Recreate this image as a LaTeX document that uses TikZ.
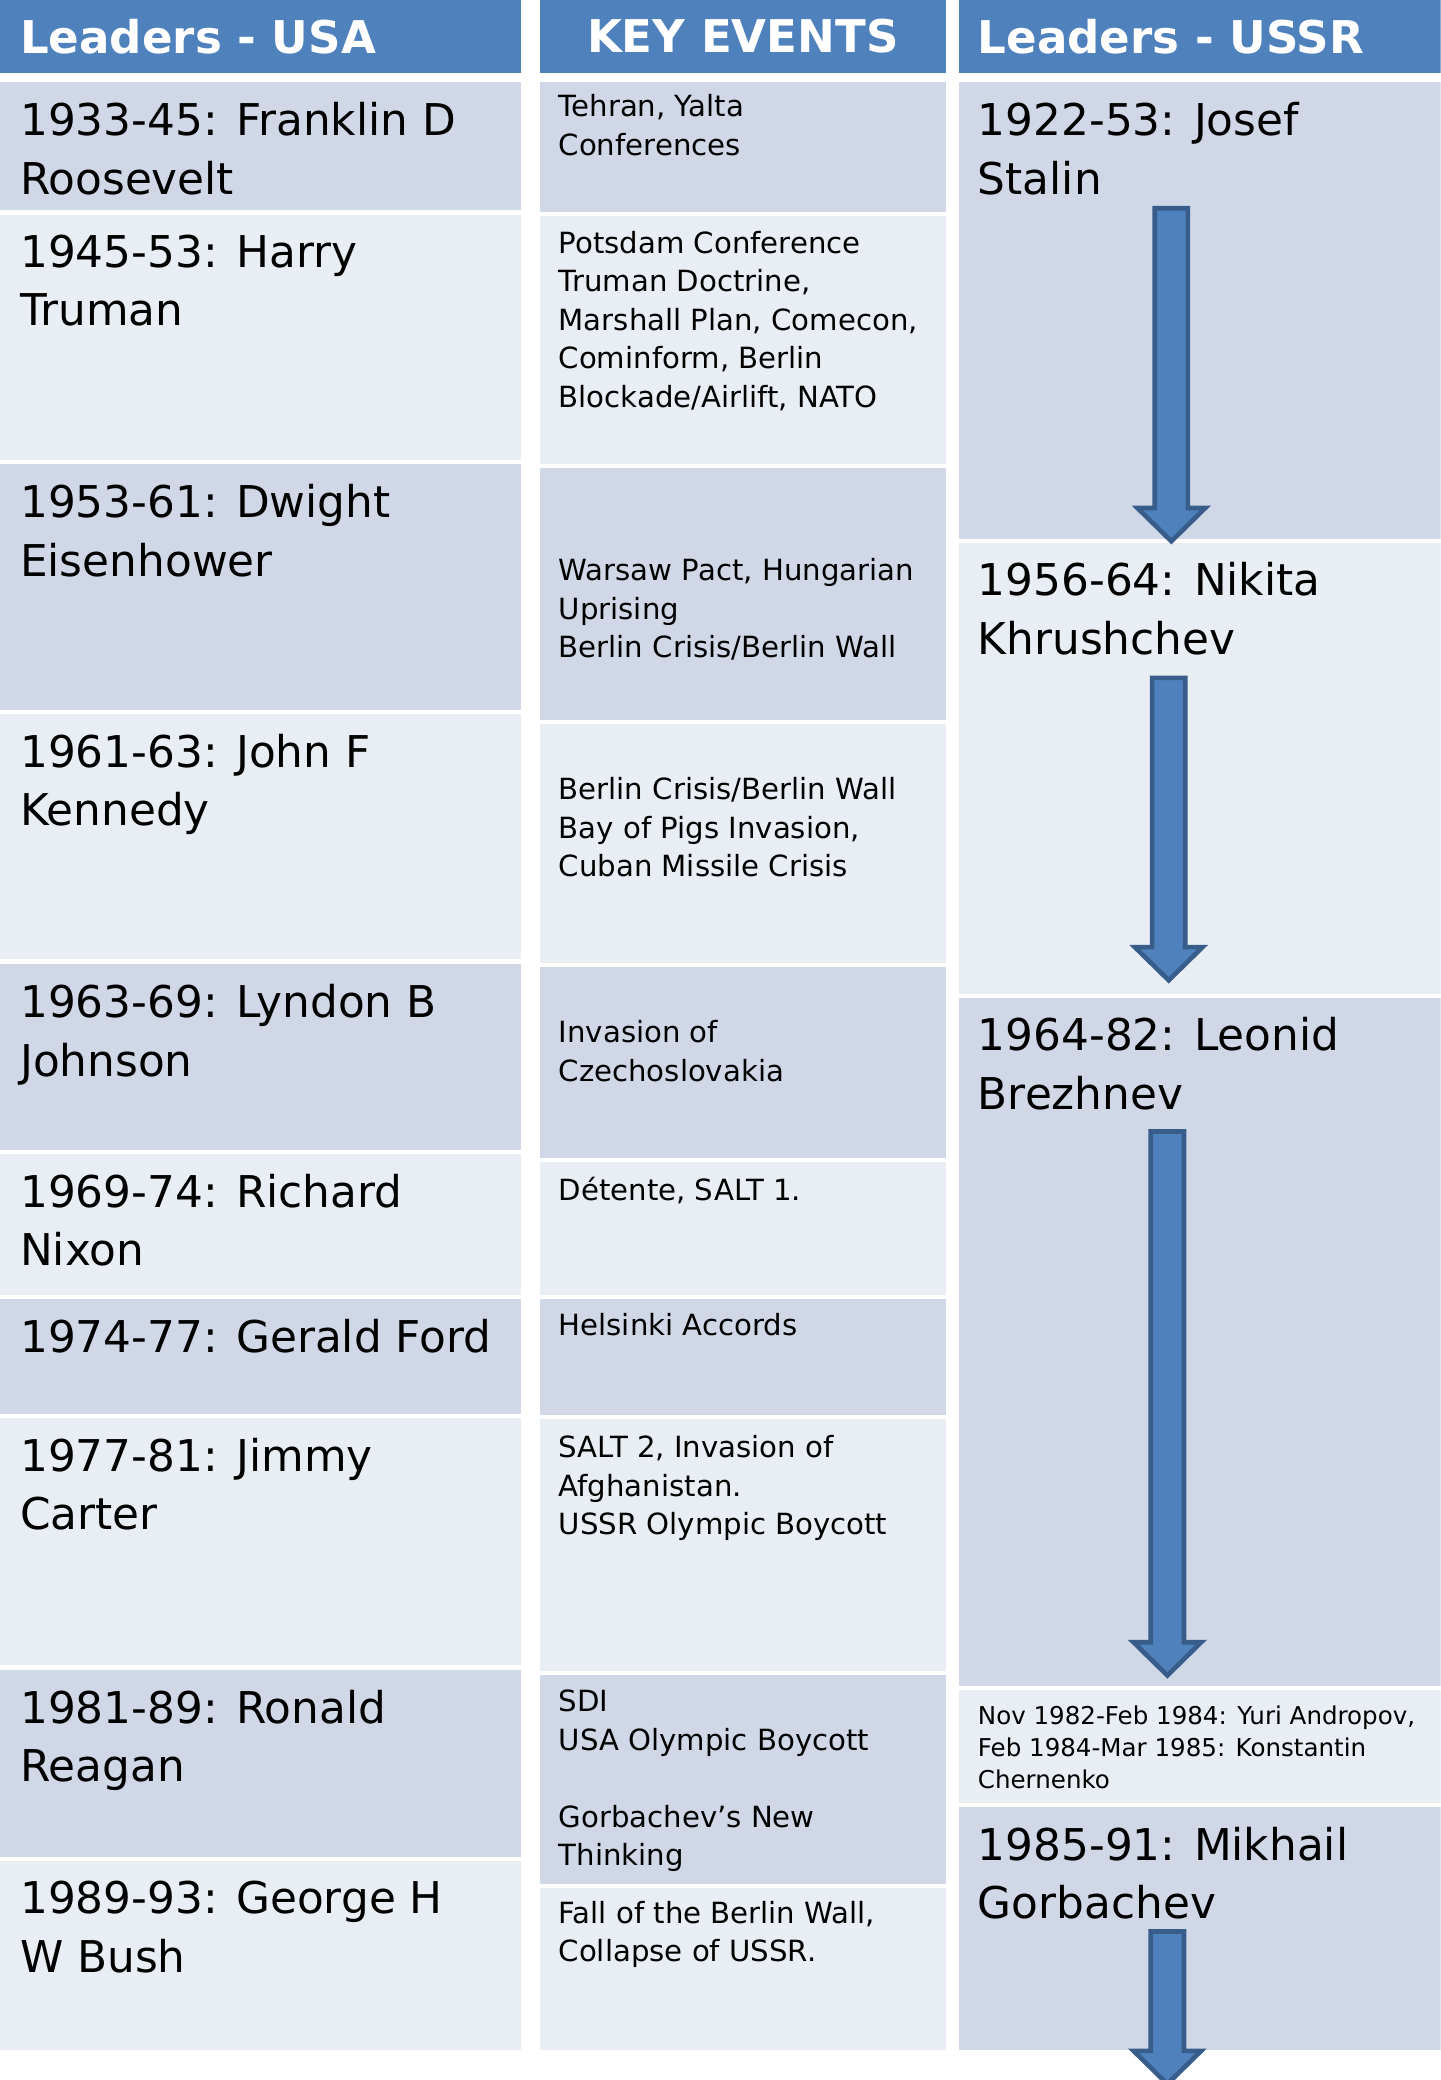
\documentclass[tikz,border=0pt]{standalone}
\usepackage{fontspec}
\setmainfont{DejaVu Sans}
\usetikzlibrary{calc}
\definecolor{headblue}{HTML}{4F81BD}
\definecolor{rowdark}{HTML}{D0D8E8}
\definecolor{rowlight}{HTML}{E9EDF4}
\definecolor{arrowedge}{HTML}{385D8A}
\newcommand\ldrfont{\fontsize{33}{44}\selectfont}
\newcommand\evtfont{\fontsize{22}{29}\selectfont}
\newcommand\smlfont{\fontsize{18.5}{24}\selectfont}
\newcommand\hdrfont{\bfseries\fontsize{34}{40}\selectfont}
\tikzset{
  cell/.style={draw=none, inner sep=0pt, outer sep=0pt, anchor=north west},
  dark/.style={cell, fill=rowdark},
  light/.style={cell, fill=rowlight},
  headcell/.style={cell, fill=headblue},
  headtxt/.style={text=white, font=\hdrfont, inner sep=0pt},
  leader/.style={anchor=north west, inner sep=0pt, align=left, font=\ldrfont},
  event/.style={anchor=north west, inner sep=0pt, align=left, font=\evtfont},
  smalltxt/.style={anchor=north west, inner sep=0pt, align=left, font=\smlfont},
  blockarr/.style={fill=headblue, draw=arrowedge, line width=3.5pt, line join=miter}
}
% block arrow from coordinate #1 (top centre) to coordinate #2 (tip)
\newcommand\blockarrow[2]{%
  \draw[blockarr] ($(#1)+(-12.5,0)$) -- ($(#1)+(12.5,0)$)
    -- ($(#2)+(12.5,-25)$) -- ($(#2)+(25.5,-25)$) -- (#2)
    -- ($(#2)+(-25.5,-25)$) -- ($(#2)+(-12.5,-25)$) -- cycle;}
\begin{document}
\begin{tikzpicture}[x=1pt, y=-1pt]
\useasboundingbox (0,0) rectangle (1086,1568);
\clip (0,0) rectangle (1086,1568);
\fill[white] (0,0) rectangle (1086,1568);

% headers
\node[headcell, minimum width=393pt, minimum height=55pt] (h1) at (0,0) {};
\node[headcell, minimum width=306pt, minimum height=55pt] (h2) at (407,0) {};
\node[headcell, minimum width=363pt, minimum height=55pt] (h3) at (723,0) {};
\node[headtxt, anchor=west] (h1t) at ([xshift=15pt]h1.west) {Leaders - USA};
\node[headtxt, anchor=center] (h2t) at (h2.center) {KEY EVENTS};
\node[headtxt, anchor=west] (h3t) at ([xshift=14pt]h3.west) {Leaders - USSR};

% USA leaders column
\node[dark,  minimum width=393pt, minimum height=96pt]  (u1)  at (0,62) {};
\node[light, minimum width=393pt, minimum height=185pt] (u2)  at (0,162) {};
\node[dark,  minimum width=393pt, minimum height=185pt] (u3)  at (0,350) {};
\node[light, minimum width=393pt, minimum height=185pt] (u4)  at (0,538) {};
\node[dark,  minimum width=393pt, minimum height=140pt] (u5)  at (0,727) {};
\node[light, minimum width=393pt, minimum height=106pt] (u6)  at (0,870) {};
\node[dark,  minimum width=393pt, minimum height=87pt]  (u7)  at (0,979) {};
\node[light, minimum width=393pt, minimum height=186pt] (u8)  at (0,1069) {};
\node[dark,  minimum width=393pt, minimum height=141pt] (u9)  at (0,1259) {};
\node[light, minimum width=393pt, minimum height=142pt] (u10) at (0,1403) {};

\node[leader] (u1t)  at ([shift={(15,15)}]u1.north west)  {1933-45: Franklin D\\Roosevelt};
\node[leader] (u2t)  at ([shift={(15,15)}]u2.north west)  {1945-53: Harry\\Truman};
\node[leader] (u3t)  at ([shift={(15,15)}]u3.north west)  {1953-61: Dwight\\Eisenhower};
\node[leader] (u4t)  at ([shift={(15,15)}]u4.north west)  {1961-63: John F\\Kennedy};
\node[leader] (u5t)  at ([shift={(15,15)}]u5.north west)  {1963-69: Lyndon B\\Johnson};
\node[leader] (u6t)  at ([shift={(15,15)}]u6.north west)  {1969-74: Richard\\Nixon};
\node[leader] (u7t)  at ([shift={(15,15)}]u7.north west)  {1974-77: Gerald Ford};
\node[leader] (u8t)  at ([shift={(15,15)}]u8.north west)  {1977-81: Jimmy\\Carter};
\node[leader] (u9t)  at ([shift={(15,15)}]u9.north west)  {1981-89: Ronald\\Reagan};
\node[leader] (u10t) at ([shift={(15,15)}]u10.north west) {1989-93: George H\\W Bush};

% key events column
\node[dark,  minimum width=306pt, minimum height=98pt]  (e1)  at (407,62) {};
\node[light, minimum width=306pt, minimum height=187pt] (e2)  at (407,163) {};
\node[dark,  minimum width=306pt, minimum height=190pt] (e3)  at (407,353) {};
\node[light, minimum width=306pt, minimum height=180pt] (e4)  at (407,546) {};
\node[dark,  minimum width=306pt, minimum height=144pt] (e5)  at (407,729) {};
\node[light, minimum width=306pt, minimum height=100pt] (e6)  at (407,876) {};
\node[dark,  minimum width=306pt, minimum height=88pt]  (e7)  at (407,979) {};
\node[light, minimum width=306pt, minimum height=190pt] (e8)  at (407,1070) {};
\node[dark,  minimum width=306pt, minimum height=157pt] (e9)  at (407,1263) {};
\node[light, minimum width=306pt, minimum height=122pt] (e10) at (407,1423) {};

\node[event] (e1t) at ([shift={(14,9)}]e1.north west) {Tehran, Yalta\\Conferences};
\node[event] (e2t) at ([shift={(14,11)}]e2.north west) {Potsdam Conference\\Truman Doctrine,\\Marshall Plan, Comecon,\\Cominform, Berlin\\Blockade/Airlift, NATO};
\node[event] (e3t) at ([shift={(14,68)}]e3.north west) {Warsaw Pact, Hungarian\\Uprising\\Berlin Crisis/Berlin Wall};
\node[event] (e4t) at ([shift={(14,40)}]e4.north west) {Berlin Crisis/Berlin Wall\\Bay of Pigs Invasion,\\Cuban Missile Crisis};
\node[event] (e5t) at ([shift={(14,40)}]e5.north west) {Invasion of\\Czechoslovakia};
\node[event, anchor=base west] (e6t) at ([shift={(14,29)}]e6.north west) {Détente, SALT 1.};
\node[event, anchor=base west] (e7t) at ([shift={(14,28)}]e7.north west) {Helsinki Accords};
\node[event] (e8t) at ([shift={(14,12)}]e8.north west) {SALT 2, Invasion of\\Afghanistan.\\USSR Olympic Boycott};
\node[event] (e9t) at ([shift={(14,11)}]e9.north west) {SDI\\USA Olympic Boycott\\[29pt]Gorbachev’s New\\Thinking};
\node[event] (e10t) at ([shift={(14,10)}]e10.north west) {Fall of the Berlin Wall,\\Collapse of USSR.};

% USSR leaders column
\node[dark,  minimum width=363pt, minimum height=344pt] (s1) at (723,62) {};
\node[light, minimum width=363pt, minimum height=340pt] (s2) at (723,409) {};
\node[dark,  minimum width=363pt, minimum height=519pt] (s3) at (723,752) {};
\node[light, minimum width=363pt, minimum height=85pt]  (s4) at (723,1274) {};
\node[dark,  minimum width=363pt, minimum height=183pt] (s5) at (723,1362) {};

\node[leader] (s1t) at ([shift={(14,15)}]s1.north west) {1922-53: Josef\\Stalin};
\node[leader] (s2t) at ([shift={(14,15)}]s2.north west) {1956-64: Nikita\\Khrushchev};
\node[leader] (s3t) at ([shift={(14,15)}]s3.north west) {1964-82: Leonid\\Brezhnev};
\node[smalltxt] (s4t) at ([shift={(14,12)}]s4.north west) {Nov 1982-Feb 1984: Yuri Andropov,\\Feb 1984-Mar 1985: Konstantin\\Chernenko};
\node[leader] (s5t) at ([shift={(14,15)}]s5.north west) {1985-91: Mikhail\\Gorbachev};

% succession arrows
\coordinate (a1s) at (883,157);  \coordinate (a1e) at (883,408);
\coordinate (a2s) at (881,511);  \coordinate (a2e) at (881,739);
\coordinate (a3s) at (880,853);  \coordinate (a3e) at (880,1263);
\coordinate (a4s) at (880,1456); \coordinate (a4e) at (880,1571);
\blockarrow{a1s}{a1e}
\blockarrow{a2s}{a2e}
\blockarrow{a3s}{a3e}
\blockarrow{a4s}{a4e}
\end{tikzpicture}
\end{document}
